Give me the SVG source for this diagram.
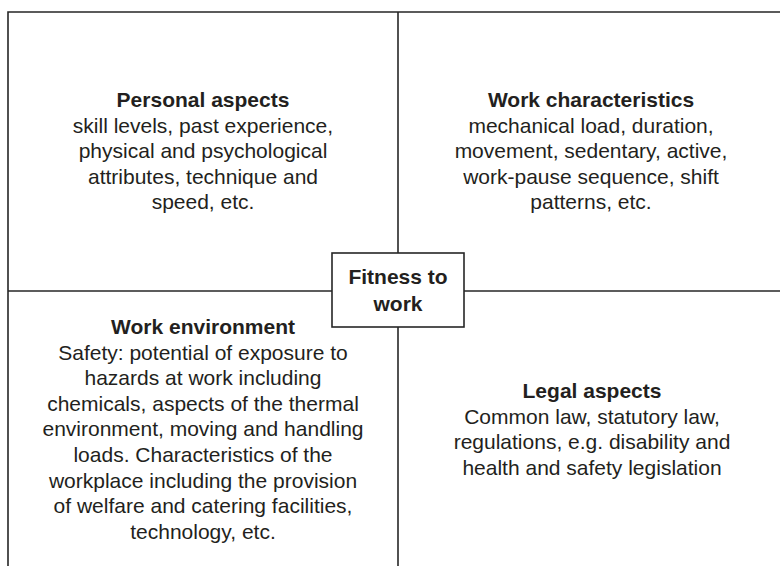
<svg xmlns="http://www.w3.org/2000/svg" width="780" height="566" viewBox="0 0 780 566">
  <style>
    .ln { stroke: #262626; stroke-width: 1.6; fill: none; }
    .t { font-family: "Liberation Sans", Arial, sans-serif; font-size: 21px; fill: #231f20; text-anchor: middle; }
    .b { font-weight: bold; }
  </style>
  <rect width="780" height="566" fill="#ffffff"/>
  <g id="frame">
    <path class="ln" d="M8,566 V12 H782"/>
  </g>
  <g id="connectors">
    <line class="ln" x1="398" y1="12" x2="398" y2="253"/>
    <line class="ln" x1="398" y1="327" x2="398" y2="566"/>
    <line class="ln" x1="8" y1="291" x2="332" y2="291"/>
    <line class="ln" x1="464" y1="291" x2="782" y2="291"/>
  </g>
  <g id="personal">
    <text class="t b" x="203" y="107">Personal aspects</text>
    <text class="t" x="203" y="132.6">skill levels, past experience,</text>
    <text class="t" x="203" y="158.2">physical and psychological</text>
    <text class="t" x="203" y="183.8">attributes, technique and</text>
    <text class="t" x="203" y="209.4">speed, etc.</text>
  </g>
  <g id="work-characteristics">
    <text class="t b" x="591" y="107">Work characteristics</text>
    <text class="t" x="591" y="132.6">mechanical load, duration,</text>
    <text class="t" x="591" y="158.2">movement, sedentary, active,</text>
    <text class="t" x="591" y="183.8">work-pause sequence, shift</text>
    <text class="t" x="591" y="209.4">patterns, etc.</text>
  </g>
  <g id="work-environment">
    <text class="t b" x="203" y="334">Work environment</text>
    <text class="t" x="203" y="359.6">Safety: potential of exposure to</text>
    <text class="t" x="203" y="385.2">hazards at work including</text>
    <text class="t" x="203" y="410.8">chemicals, aspects of the thermal</text>
    <text class="t" x="203" y="436.4">environment, moving and handling</text>
    <text class="t" x="203" y="462">loads. Characteristics of the</text>
    <text class="t" x="203" y="487.6">workplace including the provision</text>
    <text class="t" x="203" y="513.2">of welfare and catering facilities,</text>
    <text class="t" x="203" y="538.8">technology, etc.</text>
  </g>
  <g id="legal">
    <text class="t b" x="592" y="398">Legal aspects</text>
    <text class="t" x="592" y="423.6">Common law, statutory law,</text>
    <text class="t" x="592" y="449.2">regulations, e.g. disability and</text>
    <text class="t" x="592" y="474.8">health and safety legislation</text>
  </g>
  <g id="fitness">
    <rect class="ln" x="332" y="253" width="132" height="74" fill="#ffffff"/>
    <text class="t b" x="398" y="284">Fitness to</text>
    <text class="t b" x="398" y="310.5">work</text>
  </g>
</svg>
